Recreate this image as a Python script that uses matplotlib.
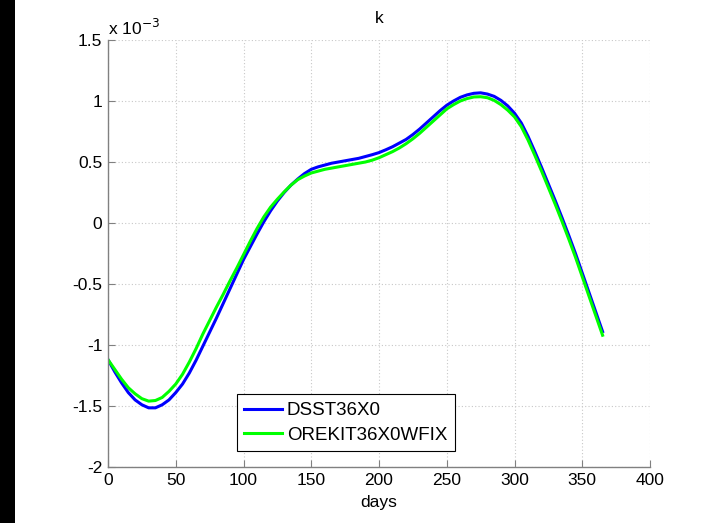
import matplotlib
matplotlib.use("Agg")
import matplotlib.pyplot as plt
from matplotlib.patches import Rectangle
from matplotlib.ticker import FuncFormatter

plt.rcParams['font.family'] = ['Liberation Sans', 'DejaVu Sans']

days = [0, 5, 10, 15, 20, 25, 30, 35, 40, 45, 50, 55, 60, 65, 70, 75, 80, 85, 90, 95,
        100, 105, 110, 115, 120, 125, 130, 135, 140, 145, 150, 155, 160, 165, 170, 175,
        180, 185, 190, 195, 200, 205, 210, 215, 220, 225, 230, 235, 240, 245, 250, 255,
        260, 265, 270, 275, 280, 285, 290, 295, 300, 305, 310, 315, 320, 325, 330, 335,
        340, 345, 350, 355, 360, 365]

# values in units of 1e-3
dsst = [-1.12, -1.22, -1.31, -1.39, -1.45, -1.49, -1.515, -1.515, -1.49, -1.45, -1.39,
        -1.32, -1.23, -1.125, -1.01, -0.895, -0.78, -0.66, -0.54, -0.42, -0.30, -0.195,
        -0.09, 0.01, 0.10, 0.18, 0.25, 0.31, 0.36, 0.405, 0.44, 0.46, 0.475, 0.49, 0.50,
        0.51, 0.52, 0.53, 0.545, 0.56, 0.577, 0.60, 0.625, 0.655, 0.685, 0.725, 0.77, 0.82,
        0.87, 0.92, 0.965, 1.00, 1.03, 1.05, 1.063, 1.067, 1.057, 1.038, 1.005, 0.96, 0.90,
        0.82, 0.71, 0.585, 0.455, 0.32, 0.185, 0.045, -0.10, -0.25, -0.41, -0.57, -0.73,
        -0.89]

orekit = [-1.12, -1.20, -1.28, -1.35, -1.40, -1.44, -1.46, -1.455, -1.43, -1.38, -1.32,
          -1.24, -1.14, -1.03, -0.91, -0.80, -0.69, -0.585, -0.475, -0.37, -0.26, -0.15,
          -0.045, 0.05, 0.13, 0.195, 0.255, 0.31, 0.355, 0.385, 0.41, 0.425, 0.44, 0.45,
          0.46, 0.47, 0.48, 0.49, 0.50, 0.515, 0.535, 0.56, 0.585, 0.615, 0.65, 0.69, 0.735,
          0.785, 0.835, 0.885, 0.935, 0.97, 1.00, 1.02, 1.033, 1.035, 1.027, 1.005, 0.97,
          0.925, 0.87, 0.79, 0.68, 0.555, 0.425, 0.29, 0.155, 0.015, -0.13, -0.28, -0.44,
          -0.60, -0.76, -0.92]

series_names = ['DSST36X0', 'OREKIT36X0WFIX']
x_ticks = [0, 50, 100, 150, 200, 250, 300, 350, 400]
y_ticks = [-2, -1.5, -1, -0.5, 0, 0.5, 1, 1.5]

fig = plt.figure(figsize=(7.06, 5.23), dpi=100)
fig.patch.set_facecolor('white')
fig.patches.append(Rectangle((0, 0), 15 / 706, 1, transform=fig.transFigure,
                             facecolor='black', edgecolor='none', zorder=0))

ax = fig.add_axes([108 / 706, 56 / 523, 542 / 706, 427 / 523])
ax.plot(days, dsst, color=(0, 0, 1), lw=2.2, label=series_names[0])
ax.plot(days, orekit, color=(0, 1, 0), lw=2.2, label=series_names[1])

ax.set_xlim(0, 400)
ax.set_ylim(-2, 1.5)
ax.set_xticks(x_ticks)
ax.set_yticks(y_ticks)
fmt = FuncFormatter(lambda v, p: ('%g' % v).replace('\u2212', '-'))
ax.xaxis.set_major_formatter(fmt)
ax.yaxis.set_major_formatter(fmt)

ax.grid(True, linestyle=(0, (1, 2)), color='#c8c8c8', linewidth=0.8)
for s in ['top', 'right']:
    ax.spines[s].set_visible(False)
for s in ['left', 'bottom']:
    ax.spines[s].set_color('#808080')
    ax.spines[s].set_linewidth(1.0)
ax.tick_params(direction='in', length=5, color='#808080', labelsize=12.5,
               labelcolor='black', pad=4)

ax.set_title('k', fontsize=12.5, pad=12)
ax.set_xlabel('days', fontsize=12.5, labelpad=5)
ax.text(0.0, 1.005, r'x 10$^{-3}$', transform=ax.transAxes, fontsize=12.5,
        ha='left', va='bottom')

leg = ax.legend(loc='lower left', bbox_to_anchor=(0.238, 0.037), fontsize=13.5,
                fancybox=False, framealpha=1, edgecolor='black',
                handlelength=2.0, borderaxespad=0, handletextpad=0.25,
                labelspacing=0.4, borderpad=0.4)
leg.get_frame().set_linewidth(0.8)

fig.savefig('out.png', dpi=100)
